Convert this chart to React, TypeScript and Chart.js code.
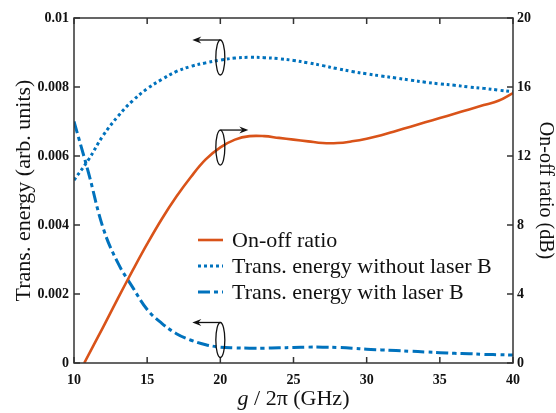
import React, { useEffect, useRef } from "react";
import { Chart, registerables } from "chart.js";

Chart.register(...registerables);

// ---- data ----
const ratioG = [10.7, 12, 13, 14, 15, 16, 17, 18, 19, 20, 21, 22, 23, 24, 25, 26, 27, 28, 29, 30, 31, 32, 33, 34, 35, 36, 37, 38, 39, 40];
const ratioDb = [0, 2.1, 3.75, 5.35, 6.9, 8.35, 9.65, 10.8, 11.8, 12.5, 12.95, 13.15, 13.15, 13.05, 12.95, 12.85, 12.75, 12.75, 12.85, 13.0, 13.2, 13.45, 13.7, 13.95, 14.2, 14.45, 14.7, 14.95, 15.2, 15.65];

const energyG = [10, 11, 12, 13, 14, 15, 16, 17, 18, 19, 20, 21, 22, 23, 24, 25, 26, 27, 28, 29, 30, 31, 32, 33, 34, 35, 36, 37, 38, 39, 40];
const energyWithout = [0.0053, 0.0059, 0.0066, 0.00715, 0.0076, 0.00795, 0.00822, 0.00845, 0.0086, 0.0087, 0.00878, 0.00884, 0.00886, 0.00885, 0.00882, 0.00877, 0.0087, 0.00862, 0.00853, 0.00845, 0.00838, 0.00832, 0.00826, 0.0082, 0.00814, 0.00809, 0.00805, 0.008, 0.00796, 0.00791, 0.00786];
const energyWith = [0.007, 0.0055, 0.0039, 0.0029, 0.0022, 0.00155, 0.00115, 0.00085, 0.00066, 0.00053, 0.00046, 0.00044, 0.00043, 0.00043, 0.00044, 0.00045, 0.00046, 0.00046, 0.00045, 0.00043, 0.0004, 0.00038, 0.00036, 0.00034, 0.00032, 0.0003, 0.00028, 0.00027, 0.00025, 0.00024, 0.00023];

const xTicks = [10, 15, 20, 25, 30, 35, 40];
const yLeftTicks = [0, 0.002, 0.004, 0.006, 0.008, 0.01];
const yLeftLabels = ["0", "0.002", "0.004", "0.006", "0.008", "0.01"];
const yRightTicks = [0, 4, 8, 12, 16, 20];

const seriesLabels = ["On-off ratio", "Trans. energy without laser B", "Trans. energy with laser B"];

// annotation ellipses (data coords) with arrow directions
const marks = [
  { x: 20, y: 0.008855, axis: "y", dir: -1 },
  { x: 20, y: 12.49, axis: "y1", dir: 1 },
  { x: 20, y: 0.000667, axis: "y", dir: -1 },
];

const ORANGE = "#D95319";
const BLUE = "#0072BD";
const FONT = "'Liberation Serif', 'Times New Roman', serif";

const dashes = [[], [3, 3], [12, 4, 4, 4]];
const widths = [2.6, 3, 3];
const colors = [ORANGE, BLUE, BLUE];

const decorPlugin = {
  id: "decor",
  afterDatasetsDraw(chart: any) {
    const ctx = chart.ctx;
    const a = chart.chartArea;
    const sx = chart.scales.x;
    const sy = chart.scales.y;
    const sy1 = chart.scales.y1;
    ctx.save();
    // frame
    ctx.strokeStyle = "#333";
    ctx.lineWidth = 1.5;
    ctx.strokeRect(a.left, a.top, a.right - a.left, a.bottom - a.top);
    // ticks inward
    const tl = 6;
    ctx.beginPath();
    xTicks.forEach((v) => {
      const px = sx.getPixelForValue(v);
      ctx.moveTo(px, a.bottom);
      ctx.lineTo(px, a.bottom - tl);
      ctx.moveTo(px, a.top);
      ctx.lineTo(px, a.top + tl);
    });
    yLeftTicks.forEach((v) => {
      const py = sy.getPixelForValue(v);
      ctx.moveTo(a.left, py);
      ctx.lineTo(a.left + tl, py);
    });
    yRightTicks.forEach((v) => {
      const py = sy1.getPixelForValue(v);
      ctx.moveTo(a.right, py);
      ctx.lineTo(a.right - tl, py);
    });
    ctx.stroke();

    // ellipses + arrows
    ctx.strokeStyle = "#111";
    ctx.fillStyle = "#111";
    ctx.lineWidth = 1.3;
    marks.forEach((m) => {
      const cx = sx.getPixelForValue(m.x);
      const cy = chart.scales[m.axis].getPixelForValue(m.y);
      const rx = 4.5, ry = 17.5;
      ctx.beginPath();
      ctx.ellipse(cx, cy, rx, ry, 0, 0, Math.PI * 2);
      ctx.stroke();
      const ay = cy - ry;
      const len = 28;
      const tip = cx + m.dir * len;
      ctx.beginPath();
      ctx.moveTo(cx, ay);
      ctx.lineTo(tip - m.dir * 4, ay);
      ctx.stroke();
      ctx.beginPath();
      ctx.moveTo(tip, ay);
      ctx.lineTo(tip - m.dir * 9, ay - 3.5);
      ctx.lineTo(tip - m.dir * 6, ay);
      ctx.lineTo(tip - m.dir * 9, ay + 3.5);
      ctx.closePath();
      ctx.fill();
    });

    // legend
    const lx = a.left + 124;
    const ly = a.top + 222;
    ctx.font = `22px ${FONT}`;
    ctx.textBaseline = "middle";
    ctx.textAlign = "left";
    seriesLabels.forEach((t, i) => {
      const y = ly + i * 26;
      ctx.beginPath();
      ctx.setLineDash(dashes[i]);
      ctx.strokeStyle = colors[i];
      ctx.lineWidth = widths[i];
      ctx.moveTo(lx, y);
      ctx.lineTo(lx + 25, y);
      ctx.stroke();
      ctx.setLineDash([]);
      ctx.fillStyle = "#111";
      ctx.fillText(t, lx + 34, y + 1);
    });

    // axis titles
    ctx.fillStyle = "#111";
    const midY = (a.top + a.bottom) / 2;
    ctx.save();
    ctx.font = `22px ${FONT}`;
    ctx.translate(24, midY);
    ctx.rotate(-Math.PI / 2);
    ctx.textAlign = "center";
    ctx.textBaseline = "middle";
    ctx.fillText("Trans. energy (arb. units)", 0, 0);
    ctx.restore();

    ctx.save();
    ctx.font = `20px ${FONT}`;
    ctx.translate(545, midY);
    ctx.rotate(Math.PI / 2);
    ctx.textAlign = "center";
    ctx.textBaseline = "middle";
    ctx.fillText("On-off ratio (dB)", 0, 0);
    ctx.restore();

    // x title with italic g
    const midX = (a.left + a.right) / 2;
    ctx.textBaseline = "alphabetic";
    ctx.textAlign = "left";
    ctx.font = `italic 22px ${FONT}`;
    const gW = ctx.measureText("g").width;
    ctx.font = `22px ${FONT}`;
    const rest = " / 2π (GHz)";
    const rW = ctx.measureText(rest).width;
    const x0 = midX - (gW + rW) / 2;
    ctx.font = `italic 22px ${FONT}`;
    ctx.fillText("g", x0, 405);
    ctx.font = `22px ${FONT}`;
    ctx.fillText(rest, x0 + gW, 405);

    ctx.restore();
  },
};

export default function App() {
  const ref = useRef<HTMLCanvasElement | null>(null);
  useEffect(() => {
    document.body.style.margin = "0";
    const canvas = ref.current!;
    const tickFont = { family: FONT, size: 14, weight: "bold" as const };
    const chart = new Chart(canvas, {
      type: "line",
      data: {
        datasets: [
          {
            label: seriesLabels[0],
            data: ratioG.map((g, i) => ({ x: g, y: ratioDb[i] })),
            borderColor: ORANGE,
            borderWidth: widths[0],
            yAxisID: "y1",
            pointRadius: 0,
            tension: 0.4,
          },
          {
            label: seriesLabels[1],
            data: energyG.map((g, i) => ({ x: g, y: energyWithout[i] })),
            borderColor: BLUE,
            borderWidth: widths[1],
            borderDash: dashes[1],
            yAxisID: "y",
            pointRadius: 0,
            tension: 0.4,
          },
          {
            label: seriesLabels[2],
            data: energyG.map((g, i) => ({ x: g, y: energyWith[i] })),
            borderColor: BLUE,
            borderWidth: widths[2],
            borderDash: dashes[2],
            yAxisID: "y",
            pointRadius: 0,
            tension: 0.4,
          },
        ],
      },
      options: {
        responsive: false,
        animation: false,
        layout: { padding: { top: 18, left: 0, right: 0, bottom: 0 } },
        plugins: { legend: { display: false }, tooltip: { enabled: false } },
        scales: {
          x: {
            type: "linear",
            min: 10,
            max: 40,
            afterBuildTicks: (s: any) => { s.ticks = xTicks.map((v) => ({ value: v })); },
            afterFit: (s: any) => { s.height = 50; },
            ticks: { font: tickFont, color: "#111", padding: 9, maxRotation: 0, callback: (v: any) => String(v) },
            grid: { drawOnChartArea: false, drawTicks: false },
            border: { display: false },
          },
          y: {
            type: "linear",
            position: "left",
            min: 0,
            max: 0.01,
            afterBuildTicks: (s: any) => { s.ticks = yLeftTicks.map((v) => ({ value: v })); },
            afterFit: (s: any) => { s.width = 74; },
            ticks: {
              font: tickFont,
              color: "#111",
              padding: 5,
              callback: (v: any) => yLeftLabels[yLeftTicks.findIndex((t) => Math.abs(t - v) < 1e-9)] ?? "",
            },
            grid: { drawOnChartArea: false, drawTicks: false },
            border: { display: false },
          },
          y1: {
            type: "linear",
            position: "right",
            min: 0,
            max: 20,
            afterBuildTicks: (s: any) => { s.ticks = yRightTicks.map((v) => ({ value: v })); },
            afterFit: (s: any) => { s.width = 43; },
            ticks: { font: tickFont, color: "#111", padding: 4, callback: (v: any) => String(v) },
            grid: { drawOnChartArea: false, drawTicks: false },
            border: { display: false },
          },
        },
      },
      plugins: [decorPlugin],
    } as any);
    return () => chart.destroy();
  }, []);
  return <canvas ref={ref} width={556} height={413} style={{ display: "block", width: 556, height: 413 }} />;
}
